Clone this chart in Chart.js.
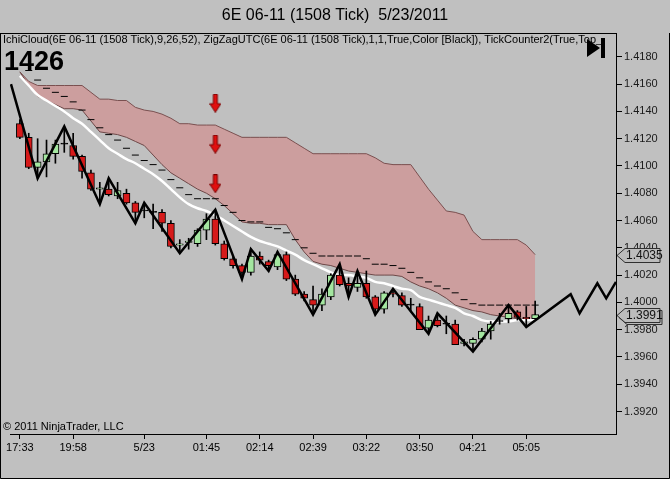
<!DOCTYPE html>
<html>
<head>
<meta charset="utf-8">
<script src="https://cdn.jsdelivr.net/npm/chart.js@4.4.0/dist/chart.umd.min.js"></script>
<style>
html, body { margin: 0; padding: 0; background: #c0c0c0; }
</style>
</head>
<body>
<canvas id="myChart" width="670" height="479"></canvas>
<script>
var titleText = '6E 06-11 (1508 Tick)  5/23/2011';
var headerText = 'IchiCloud(6E 06-11 (1508 Tick),9,26,52), ZigZagUTC(6E 06-11 (1508 Tick),1,1,True,Color [Black]), TickCounter2(True,Top_';
var tickCount = '1426';
var copyText = '\u00a9 2011 NinjaTrader, LLC';

// time axis (bar index -> label)
var xTickPos = [1, 7, 15, 22, 28, 34, 40, 46, 52, 58];
var xTickLabels = ['17:33', '19:58', '5/23', '01:45', '02:14', '02:39', '03:22', '03:50', '04:21', '05:05'];
var yTicks = [1.3920, 1.3940, 1.3960, 1.3980, 1.4000, 1.4020, 1.4040, 1.4060, 1.4080, 1.4100, 1.4120, 1.4140, 1.4160, 1.4180];

// candles, bar 0..59
var open = [null, 1.4131, 1.4121, 1.4099, 1.4103, 1.4109, 1.4116, 1.4115, 1.4107, 1.4095,
  1.4083, 1.4083, 1.4078, 1.4080, 1.4073, 1.4067, 1.4066, 1.4066, 1.4058, 1.4042,
  1.4044, 1.4043, 1.4053, 1.4061, 1.4043, 1.4032, 1.4027, 1.4022, 1.4034, 1.4030,
  1.4026, 1.4035, 1.4017, 1.4006, 1.4002, 1.3998, 1.4004, 1.4020, 1.4014, 1.4011,
  1.4014, 1.4004, 1.3995, 1.4007, 1.4005, 1.3998, 1.3997, 1.3981, 1.3987, 1.3984,
  1.3984, 1.3970, 1.3970, 1.3973, 1.3979, 1.3986, 1.3988, 1.3993, 1.3989, 1.3988];
var high = [null, 1.4134, 1.4124, 1.4120, 1.4119, 1.4119, 1.4129, 1.4124, 1.4108, 1.4097,
  1.4088, 1.4091, 1.4088, 1.4083, 1.4074, 1.4073, 1.4072, 1.4068, 1.4060, 1.4046,
  1.4047, 1.4054, 1.4065, 1.4068, 1.4045, 1.4033, 1.4028, 1.4039, 1.4037, 1.4031,
  1.4037, 1.4037, 1.4020, 1.4008, 1.4012, 1.4010, 1.4021, 1.4028, 1.4018, 1.4023,
  1.4023, 1.4005, 1.4008, 1.4010, 1.4007, 1.4003, 1.3999, 1.3990, 1.3992, 1.3990,
  1.3987, 1.3973, 1.3974, 1.3981, 1.3986, 1.3992, 1.3998, 1.3994, 1.3997, 1.4001];
var low = [null, 1.4120, 1.4098, 1.4091, 1.4092, 1.4102, 1.4110, 1.4105, 1.4091, 1.4082,
  1.4072, 1.4078, 1.4076, 1.4072, 1.4058, 1.4062, 1.4054, 1.4052, 1.4040, 1.4036,
  1.4039, 1.4041, 1.4046, 1.4042, 1.4031, 1.4025, 1.4017, 1.4020, 1.4028, 1.4023,
  1.4024, 1.4016, 1.4005, 1.4001, 1.3991, 1.3994, 1.4002, 1.4012, 1.4004, 1.4008,
  1.4003, 1.3991, 1.3992, 1.4004, 1.3997, 1.3993, 1.3980, 1.3977, 1.3982, 1.3977,
  1.3969, 1.3968, 1.3964, 1.3971, 1.3973, 1.3984, 1.3985, 1.3987, 1.3982, 1.3988];
var close = [null, 1.4121, 1.4099, 1.4103, 1.4109, 1.4116, 1.4116, 1.4107, 1.4096, 1.4083,
  1.4084, 1.4079, 1.4082, 1.4073, 1.4066, 1.4067, 1.4066, 1.4058, 1.4041, 1.4043,
  1.4045, 1.4053, 1.4061, 1.4043, 1.4032, 1.4027, 1.4022, 1.4034, 1.4031, 1.4027,
  1.4035, 1.4017, 1.4006, 1.4003, 1.3998, 1.4006, 1.4020, 1.4013, 1.4012, 1.4014,
  1.4004, 1.3995, 1.4007, 1.4006, 1.3998, 1.3998, 1.3980, 1.3987, 1.3983, 1.3984,
  1.3969, 1.3971, 1.3973, 1.3979, 1.3984, 1.3986, 1.3992, 1.3989, 1.3988, 1.3991];

// ichimoku cloud edges
var spanUp = [null, 1.4169, 1.4162, 1.4159, 1.4159, 1.4159, 1.4159, 1.4159, 1.4159, 1.4154,
  1.4149, 1.4149, 1.4148, 1.4148, 1.4143, 1.4141, 1.4140, 1.4138, 1.4135, 1.4131,
  1.4131, 1.4130, 1.4130, 1.4130, 1.4127, 1.4124, 1.4121, 1.4121, 1.4121, 1.4121,
  1.4121, 1.4121, 1.4117, 1.4113, 1.4109, 1.4109, 1.4109, 1.4109, 1.4109, 1.4109,
  1.4109, 1.4106, 1.4102, 1.4101, 1.4101, 1.4101, 1.4092, 1.4083, 1.4075, 1.4067,
  1.4066, 1.4064, 1.4052, 1.4046, 1.4046, 1.4046, 1.4046, 1.4046, 1.4042, 1.4035];
var spanDn = [null, 1.4169, 1.4159, 1.4151, 1.4148, 1.4145, 1.4142, 1.4142, 1.4141, 1.4133,
  1.4125, 1.4124, 1.4123, 1.4121, 1.4118, 1.4115, 1.4108, 1.4101, 1.4095, 1.4091,
  1.4087, 1.4083, 1.4080, 1.4076, 1.4071, 1.4065, 1.4059, 1.4058, 1.4058, 1.4057,
  1.4057, 1.4057, 1.4046, 1.4037, 1.4030, 1.4028, 1.4027, 1.4025, 1.4023, 1.4022,
  1.4021, 1.4020, 1.4020, 1.4020, 1.4019, 1.4015, 1.4012, 1.4010, 1.4007, 1.4003,
  1.3998, 1.3996, 1.3994, 1.3993, 1.3991, 1.3990, 1.3989, 1.3988, 1.3988, 1.3987];
var kijun = [null, null, 1.4170, 1.4163, 1.4157, 1.4154, 1.4151, 1.4147, 1.4141, 1.4134,
  1.4128, 1.4123, 1.4119, 1.4113, 1.4108, 1.4104, 1.4101, 1.4097, 1.4090, 1.4084,
  1.4079, 1.4076, 1.4076, 1.4076, 1.4071, 1.4066, 1.4060, 1.4059, 1.4059, 1.4055,
  1.4054, 1.4051, 1.4046, 1.4040, 1.4036, 1.4034, 1.4034, 1.4034, 1.4034, 1.4034,
  1.4032, 1.4028, 1.4028, 1.4027, 1.4025, 1.4022, 1.4018, 1.4015, 1.4012, 1.4010,
  1.4007, 1.4002, 1.3999, 1.3998, 1.3998, 1.3998, 1.3998, 1.3998, 1.3998, 1.3998];
var avgLine = [null, 1.4166, 1.4159, 1.4152, 1.4148, 1.4144, 1.4140, 1.4135, 1.4131, 1.4125,
  1.4119, 1.4113, 1.4109, 1.4105, 1.4102, 1.4098, 1.4094, 1.4089, 1.4083, 1.4077,
  1.4072, 1.4069, 1.4067, 1.4064, 1.4060, 1.4056, 1.4052, 1.4048, 1.4045, 1.4043,
  1.4041, 1.4038, 1.4035, 1.4031, 1.4028, 1.4025, 1.4022, 1.4020, 1.4020, 1.4019,
  1.4018, 1.4015, 1.4014, 1.4012, 1.4010, 1.4009, 1.4004, 1.4002, 1.4000, 1.3998,
  1.3996, 1.3992, 1.3990, 1.3987, 1.3986, 1.3986, 1.3986, 1.3987, 1.3987, 1.3987];

// zigzag swing points (bar index, price)
var zigX = [0, 3, 6, 10, 11, 14, 15, 19, 23, 26, 27, 29, 30, 34, 37, 38, 39, 41, 43, 47, 48, 52, 56, 58, 63, 64, 66, 67, 68.1];
var zigY = [1.4160, 1.4091, 1.4129, 1.4072, 1.4091, 1.4058, 1.4073, 1.4036, 1.4068, 1.4017,
  1.4039, 1.4023, 1.4037, 1.3991, 1.4028, 1.4004, 1.4023, 1.3991, 1.4010, 1.3977,
  1.3992, 1.3964, 1.3998, 1.3982, 1.4006, 1.3992, 1.4014, 1.4003, 1.4015];

var arrowX = [23, 23, 23];
var arrowY = [1.4146, 1.4116, 1.4087];
var markerVals = [1.4035, 1.3991];

var FONT = "'Liberation Sans', Arial, sans-serif";

function pts(arr) {
  var out = [];
  arr.forEach(function (v, i) { if (v !== null) out.push({ x: i, y: v }); });
  return out;
}

var bodies = [], wicks = [], bodyColors = [];
for (var i = 0; i < open.length; i++) {
  if (open[i] === null) continue;
  bodies.push({ x: i, y: [open[i], close[i]] });
  wicks.push({ x: i, y: [low[i], high[i]] });
  if (close[i] > open[i]) bodyColors.push('#a4e6a0');
  else if (close[i] < open[i]) bodyColors.push('#d61a1a');
  else bodyColors.push('#000000');
}

// red down arrow used as point style
var arrowImg = document.createElement('canvas');
arrowImg.width = 12;
arrowImg.height = 19;
(function () {
  var g = arrowImg.getContext('2d');
  g.fillStyle = '#e01010';
  g.strokeStyle = '#7a0000';
  g.lineWidth = 1;
  g.beginPath();
  g.moveTo(4, 0.5); g.lineTo(8, 0.5); g.lineTo(8, 10); g.lineTo(11.5, 10);
  g.lineTo(6, 18.5); g.lineTo(0.5, 10); g.lineTo(4, 10); g.closePath();
  g.fill();
  g.stroke();
})();

var decor = {
  id: 'decor',
  beforeDraw: function (chart) {
    var c = chart.ctx;
    c.save();
    c.fillStyle = '#c0c0c0';
    c.fillRect(0, 0, chart.width, chart.height);
    c.restore();
  },
  afterDraw: function (chart) {
    var c = chart.ctx, a = chart.chartArea, ys = chart.scales.y;
    c.save();
    c.fillStyle = '#000';
    c.textBaseline = 'alphabetic';
    c.textAlign = 'center';
    c.font = '16px ' + FONT;
    c.fillText(titleText, 335, 20);

    // frame
    c.strokeStyle = '#000';
    c.lineWidth = 1;
    c.beginPath();
    c.moveTo(0.5, a.top + 0.5); c.lineTo(a.right, a.top + 0.5);
    c.moveTo(0.5, a.top); c.lineTo(0.5, 478.5);
    c.lineTo(669.5, 478.5); c.lineTo(669.5, a.top);
    c.stroke();

    c.textAlign = 'left';
    c.font = '11px ' + FONT;
    c.fillText(headerText, 3, 43, 609);
    c.font = 'bold 27px ' + FONT;
    c.fillText(tickCount, 4, 70);
    c.font = '11px ' + FONT;
    c.fillText(copyText, 3, 430);

    // play-to-end icon
    c.beginPath();
    c.moveTo(587, 39); c.lineTo(600, 48); c.lineTo(587, 57); c.closePath();
    c.fill();
    c.fillRect(601, 38, 4, 20);

    // price markers on the axis
    markerVals.forEach(function (v, k) {
      var cy = Math.round(ys.getPixelForValue(v)) + 0.5;
      var layers = k === markerVals.length - 1 ? [2, 0] : [0];
      layers.forEach(function (off) {
        c.beginPath();
        c.moveTo(617 + off, cy + off);
        c.lineTo(625 + off, cy - 7 + off);
        c.lineTo(660 + off, cy - 7 + off);
        c.lineTo(660 + off, cy + 7 + off);
        c.lineTo(625 + off, cy + 7 + off);
        c.closePath();
        c.fillStyle = '#bcbcbc';
        c.fill();
        c.strokeStyle = '#303030';
        c.stroke();
      });
      c.fillStyle = '#111';
      c.font = '12px ' + FONT;
      c.textBaseline = 'middle';
      c.fillText(v.toFixed(4), 626, cy);
    });
    c.restore();
  }
};

var ctx = document.getElementById('myChart').getContext('2d');
var myChart = new Chart(ctx, {
  type: 'bar',
  data: {
    datasets: [
      {
        type: 'line', data: pts(spanUp), borderColor: '#7a5050', borderWidth: 1,
        backgroundColor: 'rgba(204,158,158,1)', fill: '+1', pointRadius: 0, order: 10
      },
      {
        type: 'line', data: pts(spanDn), borderColor: '#6e4848', borderWidth: 1,
        fill: false, pointRadius: 0, order: 9
      },
      {
        type: 'line', data: pts(avgLine), borderColor: '#ffffff', borderWidth: 2.5,
        cubicInterpolationMode: 'monotone', fill: false, pointRadius: 0, order: 8
      },
      {
        type: 'line', data: pts(kijun), showLine: false, pointStyle: 'line',
        pointRadius: 3.5, pointBorderColor: '#000', pointBorderWidth: 1, pointHoverRadius: 0, order: 7
      },
      {
        data: wicks, backgroundColor: '#000', borderWidth: 0, barThickness: 1,
        grouped: false, order: 6
      },
      {
        data: bodies, backgroundColor: bodyColors, borderColor: '#000', borderWidth: 1,
        borderSkipped: false, barThickness: 7, minBarLength: 1, grouped: false, order: 5
      },
      {
        type: 'line', data: zigX.map(function (x, k) { return { x: x, y: zigY[k] }; }),
        borderColor: '#000', borderWidth: 2.5, fill: false, pointRadius: 0, tension: 0, order: 4
      },
      {
        type: 'line', data: arrowX.map(function (x, k) { return { x: x, y: arrowY[k] }; }),
        showLine: false, pointStyle: arrowImg, pointRadius: 9, order: 3
      }
    ]
  },
  options: {
    responsive: false,
    devicePixelRatio: 1,
    animation: false,
    events: [],
    layout: { padding: { left: 2, top: 33, right: 0, bottom: 0 } },
    plugins: { legend: { display: false }, tooltip: { enabled: false }, title: { display: false } },
    scales: {
      x: {
        type: 'linear', min: -0.11, max: 68.1, offset: false,
        grid: { drawOnChartArea: false, offset: false, tickLength: 5, color: '#000' },
        border: { display: true, color: '#000', width: 1 },
        ticks: {
          autoSkip: false, maxRotation: 0, padding: 2, color: '#000',
          font: { size: 11, family: FONT },
          callback: function (v) { var k = xTickPos.indexOf(v); return k < 0 ? '' : xTickLabels[k]; }
        },
        afterBuildTicks: function (s) { s.ticks = xTickPos.map(function (v) { return { value: v }; }); },
        afterFit: function (s) { s.height = 45; s.paddingLeft = 0; s.paddingRight = 0; }
      },
      y: {
        position: 'right', min: 1.39035, max: 1.41975,
        grid: { drawOnChartArea: false, tickLength: 6, color: '#000' },
        border: { display: true, color: '#000', width: 1 },
        ticks: {
          padding: 2, color: '#1a1a1a', font: { size: 11, family: FONT },
          callback: function (v) { return v.toFixed(4); }
        },
        afterBuildTicks: function (s) { s.ticks = yTicks.map(function (v) { return { value: v }; }); },
        afterFit: function (s) { s.width = 54; }
      }
    }
  },
  plugins: [decor]
});
</script>
</body>
</html>
